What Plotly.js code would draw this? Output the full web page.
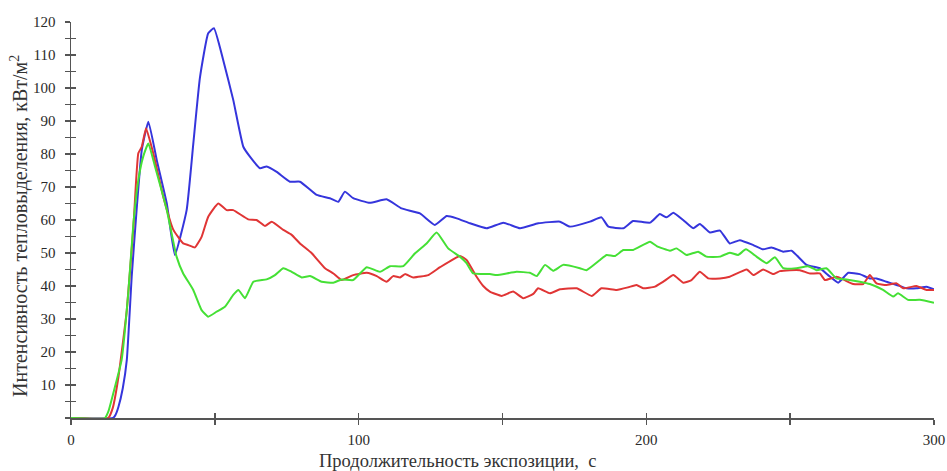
<!DOCTYPE html>
<html>
<head>
<meta charset="utf-8">
<script src="https://cdn.plot.ly/plotly-3.0.1.min.js"></script>
<style>html,body{margin:0;padding:0;background:#fff;}#chart{width:947px;height:471px;}</style>
</head>
<body>
<div id="chart"></div>
<script>
// Blue series
const blueX = [0,14.6,15.5,16.5,18,19.4,21.1,22.8,24.6,26.9,29.8,33.3,36.1,40.2,42.5,44.8,47.7,49.7,52.9,56.4,59.9,62.2,65.7,68,71.5,76.1,79.6,85.4,90,92.9,95.2,98.1,103.9,109.7,114.9,121.3,126.5,130.6,134.1,138.7,144.5,150.3,156.1,162.4,170,173.4,180.4,184.4,186.8,192,195.4,201.3,204.7,207,209.4,212.8,216.3,218.6,222.1,225.6,229,232.5,237.2,240.6,243.5,247.6,250.5,255.7,260.3,263.2,266.7,270.2,274.2,277.7,280,283.5,287,290.5,293.9,297.4,300];
const blueY = [0,0,1,3.4,9,17.6,42.8,63,81.2,89.8,78.2,65,49.4,63,83,103,116.6,118.1,108.5,96.4,82.2,79.2,75.7,76.2,74.6,71.6,71.6,67.6,66.6,65.5,68.6,66.6,65.2,66.3,63.5,62,58.5,61.2,60.5,59,57.5,59.2,57.5,59,59.5,58,59.5,60.8,58,57.5,59.7,59.2,61.8,60.8,62.2,60,57.5,58.8,56.2,56.8,52.9,53.9,52.4,51.1,51.7,50.4,50.7,46.4,45.4,43.3,41,44,43.6,42.3,42.3,41.3,40.3,39.3,39.3,39.8,39];
// Red series
const redX = [0,12.9,14.5,16.5,19.4,21.7,23.4,24.6,26.1,28.6,32.1,35.6,39,40.8,43.1,45.4,47.7,51.2,54.1,56.4,61.6,64.5,67.4,69.8,73.8,76.7,79.6,83.7,88.3,91.2,94.1,98.1,102.8,106.3,109.7,112,114.4,116.1,119,124.2,128.3,135.2,137.5,141,143.3,145.6,149.7,153.7,157.2,160.7,162.4,166.5,170,175.8,181,184.4,189.7,193.7,196.6,198.9,203,205.9,209.4,212.8,215.7,218.6,221.5,225.6,229,234.9,237.2,240.6,244.1,246.4,249.9,253.4,256.9,260.3,262.1,266.1,268.4,271.9,275.4,277.7,280,283.5,287,289.3,293.9,297.4,300];
const redY = [0,0,3,12.5,32.7,58,80.2,82.2,87.8,80.2,67,57,52.9,52.4,51.7,54.9,61,65,63,63,60.2,60,58.2,59.5,57,55.5,52.9,49.9,45.4,43.8,41.8,43.3,44,43,41.3,43,42.6,43.6,42.6,43.3,45.7,49.1,47.9,42.8,40,38.3,37,38.3,36.3,37.6,39.3,37.8,39,39.3,37,39.3,38.8,39.6,40.3,39.3,39.8,41.3,43.3,41,41.8,44.3,42.3,42.3,42.8,45,43.3,45,43.6,44.5,44.8,44.8,43.8,43.8,41.8,42.8,42,40.6,40.6,43.3,40.8,40.3,40.8,39.3,40,38.8,38.8];
// Green series
const greenX = [0,11.8,13,14.7,17.6,19.9,21.7,23.4,25.1,26.9,29.2,33.3,36.7,39,42.5,45.4,47.7,50.6,53.5,56.4,58.2,60.5,63.4,68,70.9,73.8,76.7,80.2,83.1,87.1,91.2,94.1,98.1,102.8,107.4,110.9,115.5,119.6,123.6,127.1,131.1,135.2,137.5,139.8,145.6,148,154.9,159.5,161.9,164.8,167.6,171.1,176.9,179.2,183.9,186.2,189.1,192,195.4,201.3,203.6,208.2,210.5,214,218,220.9,225.6,229,231.9,234.6,238.3,241.8,244.7,247.6,252.2,256.2,259.2,262.6,266.1,269.6,274.2,277.7,282.3,285.8,287.5,291,295.1,300];
const greenY = [0,0,2,7.5,17.6,37.8,59,72.1,79.2,83.2,76.2,63,48.9,43.8,38.8,32.7,30.7,32.2,33.7,37.3,38.8,36.3,41.3,42,43.3,45.4,44.3,42.6,43,41.3,41,42,41.8,45.7,44.3,46,46,49.9,52.9,56.2,51.4,48.9,46.9,43.8,43.6,43.3,44.3,44,43,46.4,44.6,46.4,45.4,44.8,47.9,49.4,49.1,50.9,50.9,53.4,52.1,50.7,51.4,49.4,50.4,48.9,48.9,50.1,49.4,51.1,48.9,46.9,48.7,45.4,45.4,46,44.8,45.4,42.3,42,41.3,40.6,38.8,36.8,37.8,35.8,35.8,34.9];

// Axis ticks
const xMajor = [0,100,200,300];
const xMinor = [50,150,250];
const xAll = [0,50,100,150,200,250,300];
const yMajor = [10,20,30,40,50,60,70,80,90,100,110,120];
const yMinor = [0,5,15,25,35,45,55,65,75,85,95,105,115];
const yAll = [0,5,10,15,20,25,30,35,40,45,50,55,60,65,70,75,80,85,90,95,100,105,110,115,120];

const xTitle = 'Продолжительность экспозиции,  с';
const yTitle = 'Интенсивность тепловыделения, кВт/м<sup>2</sup>';

function line(x, y, color) {
  return {x: x, y: y, type: 'scatter', mode: 'lines',
    line: {color: color, width: 2, shape: 'spline', smoothing: 0.4},
    hoverinfo: 'skip', showlegend: false};
}

const traces = [
  line(blueX, blueY, '#3535dc'),
  line(redX, redY, '#e03535'),
  line(greenX, greenY, '#45e035'),
  {x: [0], y: [0], xaxis: 'x2', yaxis: 'y2', type: 'scatter', mode: 'markers',
   marker: {opacity: 0}, hoverinfo: 'skip', showlegend: false}
];

const axisCol = '#555555';
const serif = 'Liberation Serif';
const tickFont = {family: serif, size: 15, color: '#2a2a2a'};
const minorOut = (vals) => ({tickmode: 'array', tickvals: vals, ticks: 'outside', ticklen: 5,
  tickwidth: 1.5, tickcolor: axisCol, showgrid: false});

const layout = {
  width: 947, height: 471,
  margin: {l: 71, r: 13, t: 22, b: 53},
  paper_bgcolor: '#fff', plot_bgcolor: '#fff',
  font: {family: serif},
  xaxis: {range: [0, 300], tickmode: 'array', tickvals: xMajor,
    ticks: 'outside', ticklen: 5, tickwidth: 1.5, tickcolor: axisCol,
    minor: minorOut(xMinor),
    showline: true, linecolor: axisCol, linewidth: 1.5, showgrid: false, zeroline: false,
    tickfont: tickFont, ticklabelstandoff: 2, fixedrange: true},
  yaxis: {range: [0, 120], tickmode: 'array', tickvals: yMajor,
    ticks: 'outside', ticklen: 5, tickwidth: 1.5, tickcolor: axisCol,
    minor: minorOut(yMinor),
    showline: true, linecolor: axisCol, linewidth: 1.5, showgrid: false, zeroline: false,
    tickfont: tickFont, ticklabelstandoff: 6, fixedrange: true},
  xaxis2: {range: [0, 300], overlaying: 'x', anchor: 'y2', side: 'bottom',
    tickmode: 'array', tickvals: xAll, ticks: 'inside', ticklen: 5, tickwidth: 1.5,
    tickcolor: axisCol, showticklabels: false, showline: false, showgrid: false, zeroline: false},
  yaxis2: {range: [0, 120], overlaying: 'y', anchor: 'x2', side: 'left',
    tickmode: 'array', tickvals: yAll, ticks: 'inside', ticklen: 5, tickwidth: 1.5,
    tickcolor: axisCol, showticklabels: false, showline: false, showgrid: false, zeroline: false},
  annotations: [
    {text: xTitle, xref: 'paper', yref: 'paper', x: 0.448, y: 0, yshift: -43,
     xanchor: 'center', yanchor: 'middle', showarrow: false,
     font: {family: serif, size: 18.5, color: '#333'}},
    {text: yTitle, xref: 'paper', yref: 'paper', x: 0, y: 0.485, xshift: -51,
     xanchor: 'center', yanchor: 'middle', textangle: -90, showarrow: false,
     font: {family: serif, size: 20, color: '#333'}}
  ]
};

Plotly.newPlot('chart', traces, layout, {displayModeBar: false, staticPlot: true});
</script>
</body>
</html>
